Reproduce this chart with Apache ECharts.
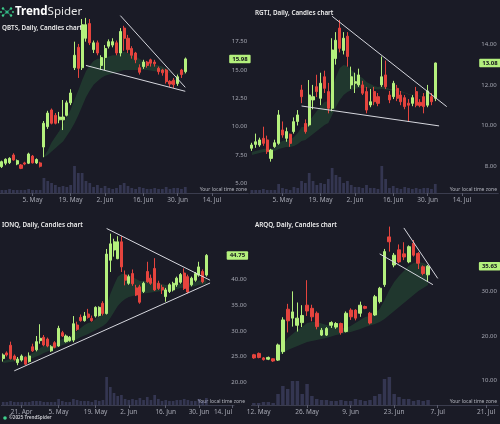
<!DOCTYPE html>
<html><head><meta charset="utf-8">
<script src="https://cdn.jsdelivr.net/npm/echarts/dist/echarts.min.js"></script>
<style>html,body{margin:0;padding:0;background:#1a1b26;}#c{width:500px;height:424px;}</style>
</head><body><div id="c"></div>
<script>
// ---------- trading calendar (category axis) ----------
const tradingDays = [
'2025-04-11',
'2025-04-14','2025-04-15','2025-04-16','2025-04-17',
'2025-04-21','2025-04-22','2025-04-23','2025-04-24','2025-04-25',
'2025-04-28','2025-04-29','2025-04-30','2025-05-01','2025-05-02',
'2025-05-05','2025-05-06','2025-05-07','2025-05-08','2025-05-09',
'2025-05-12','2025-05-13','2025-05-14','2025-05-15','2025-05-16',
'2025-05-19','2025-05-20','2025-05-21','2025-05-22','2025-05-23',
'2025-05-27','2025-05-28','2025-05-29','2025-05-30',
'2025-06-02','2025-06-03','2025-06-04','2025-06-05','2025-06-06',
'2025-06-09','2025-06-10','2025-06-11','2025-06-12','2025-06-13',
'2025-06-16','2025-06-17','2025-06-18','2025-06-20',
'2025-06-23','2025-06-24','2025-06-25','2025-06-26','2025-06-27',
'2025-06-30','2025-07-01','2025-07-02','2025-07-03',
'2025-07-07','2025-07-08','2025-07-09','2025-07-10','2025-07-11',
'2025-07-14','2025-07-15','2025-07-16','2025-07-17','2025-07-18',
'2025-07-21','2025-07-22','2025-07-23','2025-07-24','2025-07-25'
];

// ---------- QBTS ----------
const qbtsStart = '2025-04-23';
const qbtsCandles = [ // [open, high, low, close]
[6.47,7.0,6.35,6.91],[6.77,7.2,6.6,7.12],[6.82,7.3,6.7,7.2],[7.5,7.65,7.0,7.06],[6.7,7.1,6.6,7.0],
[6.62,6.7,6.25,6.32],[6.8,6.9,6.6,6.7],[6.77,7.7,6.7,7.59],[7.4,7.5,6.75,6.8],[6.8,7.2,6.7,7.1],
[6.8,6.9,6.4,6.5],[8.2,10.5,7.3,10.3],[10.0,11.4,9.8,11.2],[11.47,11.6,10.2,10.3],[11.0,11.2,10.2,10.3],
[10.6,11.3,10.3,10.85],[10.6,12.35,9.7,10.85],[11.0,12.3,10.9,12.1],[12.1,13.3,11.9,12.97],[15.2,17.5,15.0,16.3],
[17.0,17.3,14.3,15.15],[15.2,19.5,15.0,19.0],[17.8,19.6,17.5,19.0],[19.1,19.5,17.2,17.4],[16.8,17.6,16.5,17.4],
[17.4,17.6,16.3,16.5],[15.4,16.3,15.0,16.1],[16.1,17.2,15.0,16.9],[17.1,17.7,16.9,17.5],[17.2,17.8,17.0,17.5],
[17.4,17.6,16.3,16.5],[16.5,18.7,16.2,18.4],[18.7,18.9,16.7,17.8],[17.8,18.1,16.5,16.8],[16.9,17.1,16.0,16.3],
[16.5,16.6,15.6,15.9],[15.2,15.5,14.6,14.8],[15.3,15.9,15.1,15.7],[15.7,15.8,15.2,15.4],[15.9,16.0,15.3,15.6],
[15.7,15.9,15.3,15.55],[15.15,15.3,14.6,14.85],[15.0,15.1,14.5,14.75],[15.0,15.1,13.8,13.97],[14.0,14.1,13.5,13.76],
[14.1,14.3,13.4,13.7],[13.8,14.6,13.6,14.4],[15.0,15.1,14.3,14.6],[14.85,16.1,14.7,15.98]
];
const qbtsVolume = [3,3,4,3,3,3,3,4,3,3,3, 15,12, 10,8,6,7,6, 8,27,20,20,12, 10,6,8,5, 7,5,4,5,8, 10,7,5,4,6, 5,4,4,5, 4,4,6,4,5, 5,4,6];
const qbtsCloudStart = '2025-05-08';
const qbtsCloudTop = [7.4,7.9,8.6,9.1,9.6,10.2,10.9,11.5,12.4,13.2,14.1,14.9,15.4,15.8,16.0,16.0,16.1,16.2,16.3,16.3,16.5,16.6,16.5,16.4,16.2,16.0,15.8,15.7,15.6,15.5,15.4,15.3,15.1,14.8,14.7,14.7,14.7,14.85];
const qbtsCloudBottom = [7.3,7.5,7.8,8.1,8.4,8.7,9.2,9.7,10.3,11.0,11.8,12.6,13.2,13.7,14.0,14.3,14.5,14.6,14.7,14.8,14.9,15.0,15.0,15.0,15.0,15.0,15.0,15.0,14.95,14.9,14.9,14.85,14.8,14.75,14.7,14.65,14.6,14.6];
const qbtsTrendUpper = [['2025-06-06',19.8],['2025-07-02',13.47]];
const qbtsTrendLower = [['2025-05-23',15.4],['2025-07-02',13.12]];
const qbtsDateTicks = [['2025-05-05','5. May'],['2025-05-19','19. May'],['2025-06-02','2. Jun'],['2025-06-16','16. Jun'],['2025-06-30','30. Jun'],['2025-07-14','14. Jul']];
const qbtsPriceTicks = [5,7.5,10,12.5,15,17.5];

// ---------- RGTI ----------
const rgtiStart = '2025-04-23';
const rgtiCandles = [
[8.88,9.15,8.75,9.04],[9.07,9.6,8.9,9.2],[9.04,9.4,8.95,9.29],[9.37,9.94,9.0,9.12],[9.29,9.5,8.6,8.71],
[8.38,8.85,8.22,8.79],[8.96,9.3,8.9,9.15],[9.12,10.76,9.05,10.52],[9.78,10.2,9.4,9.53],[9.37,9.9,9.2,9.7],
[9.57,9.6,8.95,9.12],[9.7,10.4,9.6,10.19],[10.2,10.76,10.0,10.52],[11.75,12.0,11.1,11.42],[10.1,10.3,9.6,9.7],
[10.03,12.24,9.95,11.5],[11.26,12.0,10.8,11.42],[11.91,12.5,11.4,11.67],[11.34,12.6,11.0,12.08],[12.4,12.7,11.6,11.83],
[11.67,12.1,10.6,10.85],[10.85,14.3,10.7,13.72],[13.3,14.6,13.0,14.2],[14.8,15.2,13.6,13.8],[13.7,14.6,13.5,14.3],
[14.4,14.6,12.9,13.4],[12.0,12.9,11.8,12.4],[12.08,12.6,11.6,12.16],[12.0,12.8,11.9,12.49],[12.0,12.2,11.5,11.59],
[11.67,11.9,10.6,10.76],[11.01,11.8,10.9,11.17],[11.67,11.9,11.0,11.17],[11.42,11.6,10.95,11.09],[12.0,13.4,11.9,12.4],
[12.49,13.2,11.8,11.91],[11.5,11.7,11.1,11.26],[11.42,12.2,11.3,12.08],[11.83,12.0,11.2,11.34],[11.5,11.7,11.0,11.17],
[11.37,11.5,10.8,10.93],[11.1,11.3,10.2,11.0],[11.09,11.5,10.95,11.37],[11.67,11.9,10.9,11.0],[11.14,11.3,10.9,10.98],
[11.42,11.6,10.6,10.93],[11.0,12.0,10.9,11.7],[11.42,11.6,11.0,11.17],[11.34,13.1,11.2,13.08]
];
const rgtiVolume = [3,3,3,4,3,3,3,9,5,4,3,6,5, 12,10,20,12,8, 10,9,14,25,18, 16,10,12,8, 6,6,5,8,5, 5,4,27,14,5, 7,5,4,6, 5,4,5,4,5, 5,4,9];
const rgtiCloudStart = '2025-04-23';
const rgtiCloudTop = [8.69,8.74,8.79,8.84,8.87,8.84,8.89,9.14,9.24,9.29,9.29,9.43,9.63,9.93,9.93,10.22,10.47,10.71,10.96,11.16,11.21,11.85,12.39,12.83,12.98,12.93,12.73,12.59,12.44,12.34,12.14,12.04,11.95,11.90,11.95,11.90,11.80,11.80,11.75,11.70,11.62,11.55,11.53,11.50,11.45,11.42,11.43,11.43,11.55];
const rgtiCloudBottom = [8.55,8.60,8.65,8.69,8.69,8.69,8.74,8.84,8.89,8.94,8.94,8.99,9.09,9.24,9.29,9.43,9.58,9.73,9.88,10.02,10.12,10.52,10.91,11.26,11.50,11.65,11.75,11.80,11.85,11.85,11.85,11.82,11.80,11.77,11.80,11.77,11.75,11.72,11.70,11.65,11.60,11.53,11.50,11.48,11.43,11.40,11.40,11.40,11.43];
const rgtiTrendUpper = [['2025-05-22',15.38],['2025-07-08',10.93]];
const rgtiTrendLower = [['2025-05-12',10.96],['2025-07-03',9.98]];
const rgtiDateTicks = qbtsDateTicks;
const rgtiPriceTicks = [8,10,12,14];

// ---------- IONQ ----------
const ionqStart = '2025-04-11';
const ionqCandles = [
[24.6,25.6,24.0,25.3],[25.7,26.0,25.0,25.3],[27.2,27.9,24.4,24.6],[25.1,25.4,24.2,24.45],[23.8,24.9,23.3,24.45],
[24.3,25.4,24.0,25.1],[24.85,25.0,23.3,23.5],[24.0,25.8,23.8,25.1],[26.9,27.5,25.9,26.1],[26.3,29.0,26.0,27.9],
[28.1,31.3,27.5,28.55],[28.75,29.2,27.0,27.25],[28.4,28.7,26.8,27.05],[26.1,27.2,25.9,26.9],[27.7,28.0,26.6,26.8],
[27.05,31.0,26.9,30.5],[29.65,30.0,28.8,29.0],[27.9,29.3,27.7,29.0],[28.1,29.0,27.9,28.75],[28.2,32.9,27.8,31.4],
[31.15,31.8,30.0,30.3],[32.65,33.2,31.8,32.0],[32.0,33.7,31.8,32.9],[33.3,34.3,32.4,32.65],[32.45,33.0,31.8,32.0],
[32.9,34.8,32.6,34.6],[33.0,34.8,32.8,34.6],[35.4,35.8,33.0,33.4],[33.4,46.0,33.2,45.0],[43.8,49.0,41.5,47.0],
[45.8,48.0,44.5,47.4],[44.1,48.5,44.0,47.4],[47.4,48.5,41.5,42.5],[40.9,41.8,38.9,39.9],[39.3,41.0,39.0,40.6],
[41.2,42.0,38.8,39.2],[38.4,39.0,36.8,37.0],[38.6,39.0,35.3,35.6],[37.7,39.6,37.4,39.3],[41.6,43.5,39.4,39.6],
[40.3,41.0,39.0,39.3],[42.2,44.2,37.8,38.0],[39.3,39.8,38.0,38.3],[38.5,39.0,37.2,38.0],[36.7,38.4,35.7,38.0],
[37.7,39.3,37.4,39.0],[38.0,39.6,37.7,39.3],[39.0,40.6,38.6,40.3],[39.5,41.3,39.2,41.0],[41.3,42.2,38.0,38.3],
[40.6,41.0,37.3,37.6],[39.0,40.6,38.7,40.3],[39.9,41.5,39.6,41.2],[40.9,43.5,40.6,42.5],[41.6,42.0,39.3,39.6],
[40.9,45.0,40.6,44.75]
];
const ionqVolume = [3,3,4,3,3,3,3,3,4,4,4,3,3,3,3, 6,4,3,3,6,5,4,4,4,3,5,4,5, 28,18,12,9,10, 6,5,6,5,7,5, 8,5,10,6,4, 5,4,4,5, 5,6,5,4,4, 6,4,7];
const ionqCloudStart = '2025-04-11';
const ionqCloudTop = [24.12,24.32,24.51,24.61,24.71,24.90,25.10,25.29,25.68,26.07,26.66,27.05,27.25,27.34,27.44,28.03,28.42,28.61,28.81,29.39,29.98,30.57,31.15,31.54,31.74,32.32,32.91,33.11,35.06,37.21,38.96,40.53,41.11,41.11,40.92,40.53,40.14,39.75,39.75,39.75,39.55,39.55,39.36,39.16,38.96,38.96,38.96,39.06,39.16,39.26,39.26,39.36,39.55,39.85,39.94,40.33];
const ionqCloudBottom = [23.73,23.83,23.93,24.02,24.12,24.22,24.32,24.51,24.71,25.0,25.29,25.68,25.98,26.27,26.56,26.86,27.25,27.44,27.73,28.03,28.42,28.81,29.10,29.39,29.79,30.18,30.57,30.96,31.54,32.52,33.69,34.86,35.64,36.23,36.62,36.82,37.01,37.21,37.30,37.40,37.50,37.60,37.70,37.79,37.89,37.99,38.09,38.18,38.38,38.48,38.57,38.67,38.77,38.96,39.06,39.16];
const ionqTrendUpper = [['2025-05-22',50.0],['2025-07-03',39.9]];
const ionqTrendLower = [['2025-04-16',22.2],['2025-07-03',39.36]];
const ionqDateTicks = [['2025-04-21','21. Apr'],['2025-05-05','5. May'],['2025-05-19','19. May'],['2025-06-02','2. Jun'],['2025-06-16','16. Jun'],['2025-06-30','30. Jun'],['2025-07-14','14. Jul']];
const ionqPriceTicks = [20,25,30,35,40];

// ---------- ARQQ ----------
const arqqStart = '2025-05-09';
const arqqCandles = [
[15.8,16.0,14.9,15.1],[16.1,16.3,15.0,15.2],[15.1,15.3,14.5,14.7],[14.8,15.4,14.6,15.2],[14.9,15.0,14.2,14.4],
[14.6,18.3,14.4,18.0],[16.5,24.2,16.0,23.6],[26.0,27.2,20.8,23.4],[24.0,30.0,22.1,25.4],[22.4,27.5,21.0,24.0],
[23.0,26.9,22.0,24.6],[26.9,32.5,24.5,25.6],[26.2,27.0,23.3,24.3],[25.1,25.5,21.5,22.1],[20.2,21.8,20.0,21.3],
[20.2,22.0,20.0,21.7],[22.4,23.3,21.8,23.0],[22.0,23.1,21.6,22.8],[22.8,23.0,20.3,20.8],[21.0,25.5,20.8,25.1],
[25.8,26.2,23.6,24.3],[25.8,26.0,23.5,24.0],[25.1,27.7,24.3,26.9],[26.6,26.8,26.0,26.2],[25.1,25.4,22.6,22.9],
[24.7,29.2,24.5,28.8],[27.7,31.0,27.3,30.7],[31.5,39.5,31.0,38.9],[42.2,44.5,38.9,41.1],[35.9,38.6,35.4,38.1],
[39.3,40.5,36.3,36.6],[38.4,41.0,37.0,37.7],[36.6,40.3,36.3,40.0],[40.8,41.5,37.8,38.1],[38.5,38.8,35.0,36.3],
[35.5,35.8,33.6,34.0],[33.7,35.9,32.3,35.63]
];
const arqqVolume = [2,2,3,3,2, 11,19,16,24,24, 11,21,9,6,5, 5,4,4,5,4, 4,6,5,4,5, 9,11,26,28,11, 8,6,6,4,5, 4,5];
const arqqCloudStart = '2025-05-16';
const arqqCloudTop = [15.97,17.98,19.55,20.45,21.34,22.02,22.91,23.14,23.14,22.80,22.46,22.24,22.02,21.79,21.79,22.24,22.91,23.58,24.26,24.48,25.15,26.05,28.06,30.30,32.09,33.44,34.56,35.68,36.35,36.58,36.35,35.90];
const arqqCloudBottom = [15.52,16.19,16.86,17.31,17.76,18.21,18.66,18.88,19.10,19.33,19.55,19.89,20.22,20.45,20.67,20.90,21.23,21.57,22.02,22.35,22.69,23.14,23.81,24.70,25.60,26.49,27.39,28.29,29.18,30.08,30.75,31.42];
const arqqTrendUpper = [['2025-06-25',44.2],['2025-07-07',32.9]];
const arqqTrendLower = [['2025-06-17',38.4],['2025-07-03',31.5]];
const arqqDateTicks = [['2025-05-12','12. May'],['2025-05-27','26. May'],['2025-06-09','9. Jun'],['2025-06-23','23. Jun'],['2025-07-07','7. Jul'],['2025-07-21','21. Jul']];
const arqqPriceTicks = [10,20,30];

// ---------- panels: data + layout ----------
const panels = [
 {title:'QBTS, Daily, Candles chart', start:qbtsStart, candles:qbtsCandles, volume:qbtsVolume, cloudStart:qbtsCloudStart, cloudTop:qbtsCloudTop, cloudBottom:qbtsCloudBottom, trends:[qbtsTrendUpper,qbtsTrendLower], dateTicks:qbtsDateTicks, priceTicks:qbtsPriceTicks,
  L:{left:0, bw:3.82, priceCats:60, axisCats:65, yRef:15, yRefPx:70, pxPer:11.33, min:2.5, max:20, step:2.5, labelMargin:18, axisY:193, titleX:2, titleY:28, tzX:247, tzY:189.5}},
 {title:'RGTI, Daily, Candles chart', start:rgtiStart, candles:rgtiCandles, volume:rgtiVolume, cloudStart:rgtiCloudStart, cloudTop:rgtiCloudTop, cloudBottom:rgtiCloudBottom, trends:[rgtiTrendUpper,rgtiTrendLower], dateTicks:rgtiDateTicks, priceTicks:rgtiPriceTicks,
  L:{left:250, bw:3.82, priceCats:60, axisCats:65, yRef:14, yRefPx:44.3, pxPer:20.3, min:6, max:16, step:2, labelMargin:17.5, axisY:193, titleX:255, titleY:13.5, tzX:497, tzY:189.5}},
 {title:'IONQ, Daily, Candles chart', start:ionqStart, candles:ionqCandles, volume:ionqVolume, cloudStart:ionqCloudStart, cloudTop:ionqCloudTop, cloudBottom:ionqCloudBottom, trends:[ionqTrendUpper,ionqTrendLower], dateTicks:ionqDateTicks, priceTicks:ionqPriceTicks,
  L:{left:1.35, bw:3.694, priceCats:61, axisCats:63, yRef:40, yRefPx:279.7, pxPer:5.12, min:15, max:55, step:5, labelMargin:20, axisY:405, titleX:2, titleY:225, tzX:245, tzY:401.5, alignMax:'right'}},
 {title:'ARQQ, Daily, Candles chart', start:arqqStart, candles:arqqCandles, volume:arqqVolume, cloudStart:arqqCloudStart, cloudTop:arqqCloudTop, cloudBottom:arqqCloudBottom, trends:[arqqTrendUpper,arqqTrendLower], dateTicks:arqqDateTicks, priceTicks:arqqPriceTicks,
  L:{left:251.4, bw:4.84, priceCats:47, axisCats:51, yRef:20, yRefPx:336, pxPer:4.465, min:10, max:50, step:10, labelMargin:18, axisY:405, titleX:255, titleY:225, tzX:497, tzY:401.5}}
];

const UP = '#b4f07d', DOWN = '#e5443e';
const FONT = '"Noto Sans", "DejaVu Sans", sans-serif';
const option = {animation:false, backgroundColor:'#1a1b26', grid:[], xAxis:[], yAxis:[], series:[], graphic:[]};

panels.forEach((p, k) => {
  const L = p.L;
  const s = tradingDays.indexOf(p.start);
  const priceDates = tradingDays.slice(s, s + L.priceCats);
  const axisDates = tradingDays.slice(s, s + L.axisCats);
  const gi = option.grid.length;
  option.grid.push({left:L.left, top:L.yRefPx - (L.max - L.yRef) * L.pxPer, width:L.priceCats * L.bw, height:(L.max - L.min) * L.pxPer});
  option.grid.push({left:L.left, top:L.axisY - 60, width:L.axisCats * L.bw, height:60});
  const tickMap = new Map(p.dateTicks);
  option.xAxis.push({type:'category', gridIndex:gi, data:priceDates, show:false});
  option.xAxis.push({type:'category', gridIndex:gi + 1, data:axisDates,
    axisLine:{show:true, lineStyle:{color:'#3b3d4e', width:1}},
    axisTick:{show:true, alignWithLabel:true, length:3, interval:(i, v) => tickMap.has(v), lineStyle:{color:'#5a5c6c'}},
    axisLabel:{interval:(i, v) => tickMap.has(v), formatter:(v) => tickMap.get(v) || '', color:'#a6a8b3', fontSize:6.5, fontFamily:FONT, margin:4, alignMaxLabel:L.alignMax || null},
    splitLine:{show:false}});
  const pt = p.priceTicks;
  option.yAxis.push({type:'value', gridIndex:gi, position:'right', min:L.min, max:L.max, interval:L.step, scale:false,
    splitLine:{show:false}, axisLine:{show:false}, axisTick:{show:false},
    axisLabel:{align:'right', margin:L.labelMargin, color:'#a6a8b3', fontSize:6, fontFamily:FONT,
      formatter:(v) => pt.some(t => Math.abs(t - v) < 1e-6) ? v.toFixed(2) : ''}});
  option.yAxis.push({type:'value', gridIndex:gi + 1, min:0, max:60, show:false});

  // cloud
  const co = tradingDays.indexOf(p.cloudStart) - s;
  const base = priceDates.map((d, i) => { const j = i - co; return (j >= 0 && j < p.cloudBottom.length) ? p.cloudBottom[j] : '-'; });
  const band = priceDates.map((d, i) => { const j = i - co; return (j >= 0 && j < p.cloudTop.length) ? +(p.cloudTop[j] - p.cloudBottom[j]).toFixed(3) : '-'; });
  option.series.push({type:'line', xAxisIndex:gi, yAxisIndex:gi, data:base, stack:'cloud' + k, symbol:'none', silent:true, lineStyle:{opacity:0}, z:1});
  option.series.push({type:'line', xAxisIndex:gi, yAxisIndex:gi, data:band, stack:'cloud' + k, symbol:'none', silent:true, lineStyle:{opacity:0}, areaStyle:{color:'rgba(50,135,70,0.38)'}, z:1});

  // volume
  option.series.push({type:'bar', xAxisIndex:gi + 1, yAxisIndex:gi + 1, data:axisDates.map((d, i) => i < p.volume.length ? p.volume[i] : '-'), barWidth:'72%', itemStyle:{color:'rgba(105,110,170,0.33)'}, silent:true, z:0});

  // candles
  const last = p.candles[p.candles.length - 1][3];
  option.series.push({type:'candlestick', xAxisIndex:gi, yAxisIndex:gi, barWidth:'68%',
    data:priceDates.map((d, i) => i < p.candles.length ? [p.candles[i][0], p.candles[i][3], p.candles[i][2], p.candles[i][1]] : '-'),
    itemStyle:{color:UP, color0:DOWN, borderColor:UP, borderColor0:DOWN, borderWidth:1}, z:3});

  // last-price tag on the price axis
  option.series.push({type:'line', xAxisIndex:gi, yAxisIndex:gi, data:[], silent:true, z:6,
    markLine:{silent:true, symbol:['none','none'], animation:false, lineStyle:{color:'rgba(0,0,0,0)', width:0, type:'solid'},
      label:{show:true, position:'end', distance:0, formatter:last.toFixed(2), backgroundColor:UP, color:'#14151d', fontSize:6, fontFamily:FONT, fontWeight:'bold', padding:[1.5, 3, 1, 3], borderRadius:1},
      data:[{yAxis:last}]}});

  // trend lines
  p.trends.forEach(t => option.series.push({type:'line', xAxisIndex:gi, yAxisIndex:gi, data:t, symbol:'none', silent:true, lineStyle:{color:'#d6d7de', width:1}, z:4}));

  // texts
  option.graphic.push({type:'text', x:L.titleX, y:L.titleY, silent:true, style:{text:p.title, fill:'#eeeeee', font:'600 6.3px ' + FONT, textVerticalAlign:'middle'}});
  option.graphic.push({type:'text', x:L.tzX, y:L.tzY, silent:true, style:{text:'Your local time zone', fill:'#b3b5be', font:'5px ' + FONT, textAlign:'right', textVerticalAlign:'middle'}});
});

// logo
const logoDots = [[7,12,1.6],[3,8.5,1.2],[11,8.5,1.2],[3,15.5,1.2],[11,15.5,1.2],[1,12,0.9],[13,12,0.9]];
logoDots.forEach(d => option.graphic.push({type:'circle', shape:{cx:d[0], cy:d[1], r:d[2]}, style:{fill:'#3fd08c'}, silent:true}));
[[3,8.5],[11,8.5],[3,15.5],[11,15.5]].forEach(e => option.graphic.push({type:'line', shape:{x1:7, y1:12, x2:e[0], y2:e[1]}, style:{stroke:'#2fae86', lineWidth:0.8}, silent:true}));
option.graphic.push({type:'text', x:15, y:12, silent:true, style:{text:'{b|Trend}{n|Spider}', textVerticalAlign:'middle',
  rich:{b:{fill:'#ffffff', font:'bold 11.5px ' + FONT}, n:{fill:'#e6e6e6', font:'11.5px ' + FONT}}}});
option.graphic.push({type:'circle', shape:{cx:5, cy:418, r:1.8}, style:{fill:'#3fd08c'}, silent:true});
option.graphic.push({type:'text', x:9, y:418, silent:true, style:{text:'©2025 TrendSpider', fill:'#d0d0d6', font:'600 4.6px ' + FONT, textVerticalAlign:'middle'}});

const chart = echarts.init(document.getElementById('c'), null, {renderer:'canvas'});
chart.setOption(option);
</script></body></html>
